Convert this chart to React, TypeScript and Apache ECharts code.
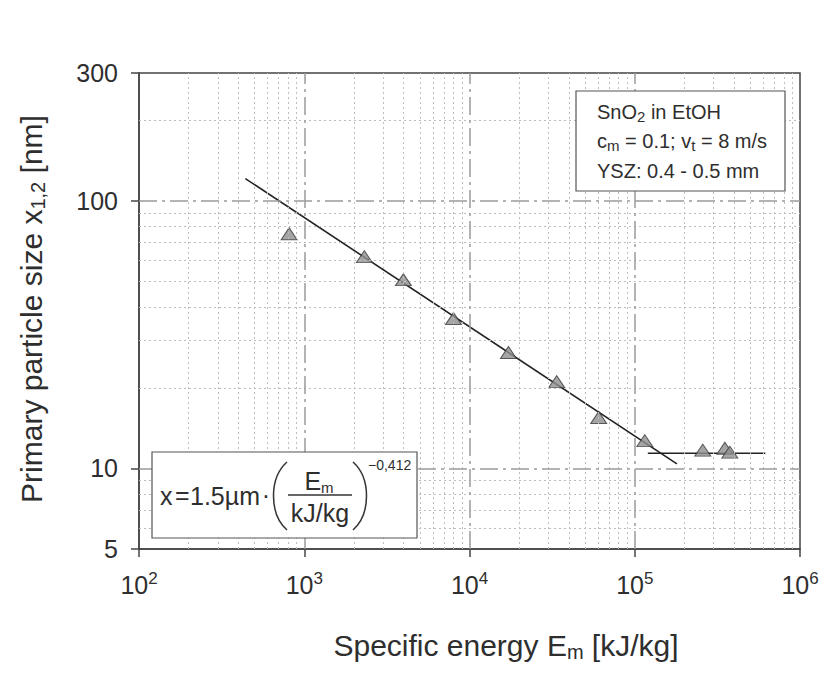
import React, { useEffect, useRef } from "react";
import * as echarts from "echarts";

// ---- data ----
const energy = [810, 2310, 3980, 8000, 17200, 33700, 60500, 115000, 258000, 351000, 376000];
const particleSize = [75.3, 61.8, 50.7, 36.3, 27.1, 21.1, 15.5, 12.7, 11.7, 11.9, 11.5];
const fitLineE = [440, 180000];
const fitLineX = [121, 10.4];
const plateauE = [120000, 617000];
const plateauX = [11.4, 11.4];

// ---- axes / grid ----
const xTicks = [100, 1000, 10000, 100000, 1000000];
const yTicks = [5, 10, 100, 300];
const xMajorGrid = [1000, 10000, 100000];
const yMajorGrid = [10, 100];
const xMinorGrid = [
  200, 300, 400, 500, 600, 700, 800, 900,
  2000, 3000, 4000, 5000, 6000, 7000, 8000, 9000,
  20000, 30000, 40000, 50000, 60000, 70000, 80000, 90000,
  200000, 300000, 400000, 500000, 600000, 700000, 800000, 900000,
];
const yMinorGrid = [6, 7, 8, 9, 20, 30, 40, 50, 60, 70, 80, 90, 200];

const legendLines = [
  "SnO{sub|2} in EtOH",
  "c{sub|m} = 0.1; v{sub|t} = 8 m/s",
  "YSZ: 0.4 - 0.5 mm",
];
const xTitle = "Specific energy E{sub|m} [kJ/kg]";
const yTitle = "Primary particle size x{sub|1,2} [nm]";

const FONT = "'Liberation Sans', Arial, Helvetica, sans-serif";
const TXT = "#2e2e2e";

export default function App() {
  const ref = useRef<HTMLDivElement>(null);

  useEffect(() => {
    document.body.style.margin = "0";
    if (!ref.current) return;
    const chart = echarts.init(ref.current, null, { renderer: "svg" });

    const minorStyle = { color: "#bdbdbd", width: 1, type: [2, 3] as any };
    const majorStyle = { color: "#9a9a9a", width: 1.5, type: [18, 5, 3, 5] as any };

    const gridLines = [
      ...xMinorGrid.map((v) => ({ xAxis: v, lineStyle: minorStyle })),
      ...yMinorGrid.map((v) => ({ yAxis: v, lineStyle: minorStyle })),
      ...xMajorGrid.map((v) => ({ xAxis: v, lineStyle: majorStyle })),
      ...yMajorGrid.map((v) => ({ yAxis: v, lineStyle: majorStyle })),
    ];

    const subRich = (fs: number, lh: number) => ({
      sub: { fontSize: fs, lineHeight: lh, verticalAlign: "bottom", fill: TXT, fontFamily: FONT },
    });

    const option: any = {
      animation: false,
      backgroundColor: "#fff",
      grid: {
        left: 139,
        right: 25,
        top: 73,
        bottom: 142,
        show: true,
        borderColor: "#444",
        borderWidth: 1.5,
        backgroundColor: "transparent",
      },
      xAxis: {
        type: "log",
        logBase: 10,
        min: 100,
        max: 1000000,
        axisLine: { show: true, lineStyle: { color: "#444", width: 1.5 } },
        axisTick: { show: true, length: 8, customValues: xTicks, lineStyle: { color: "#444", width: 1.5 } },
        splitLine: { show: false },
        axisLabel: {
          customValues: xTicks,
          margin: 21,
          color: TXT,
          fontFamily: FONT,
          fontSize: 25,
          lineHeight: 30,
          formatter: (v: number) => "10{sup|" + Math.round(Math.log10(v)) + "}",
          rich: {
            sup: { fontSize: 17, lineHeight: 18, verticalAlign: "top", color: TXT, fontFamily: FONT },
          },
        },
      },
      yAxis: {
        type: "log",
        logBase: 10,
        min: 5,
        max: 300,
        axisLine: { show: true, lineStyle: { color: "#444", width: 1.5 } },
        axisTick: { show: true, length: 8, customValues: yTicks, lineStyle: { color: "#444", width: 1.5 } },
        splitLine: { show: false },
        axisLabel: {
          customValues: yTicks,
          margin: 21,
          color: TXT,
          fontFamily: FONT,
          fontSize: 25,
          formatter: (v: number) => String(Math.round(v)),
        },
      },
      series: [
        {
          name: "grid",
          type: "line",
          data: [],
          z: 1,
          silent: true,
          markLine: {
            silent: true,
            symbol: ["none", "none"],
            label: { show: false },
            emphasis: { disabled: true },
            animation: false,
            data: gridLines,
          },
        },
        {
          name: "fit",
          type: "line",
          z: 3,
          symbol: "none",
          silent: true,
          lineStyle: { color: "#222", width: 1.6 },
          data: fitLineE.map((e, i) => [e, fitLineX[i]]),
        },
        {
          name: "plateau",
          type: "line",
          z: 3,
          symbol: "none",
          silent: true,
          lineStyle: { color: "#222", width: 1.6 },
          data: plateauE.map((e, i) => [e, plateauX[i]]),
        },
        {
          name: "data",
          type: "scatter",
          z: 4,
          symbol: "triangle",
          symbolSize: [16, 12],
          itemStyle: { color: "#8f8f8f", borderColor: "#3a3a3a", borderWidth: 1 },
          data: energy.map((e, i) => [e, particleSize[i]]),
        },
      ],
      graphic: [
        // axis titles
        {
          type: "text",
          x: 506,
          y: 645,
          z: 20,
          style: {
            text: xTitle,
            fill: TXT,
            fontFamily: FONT,
            fontSize: 30,
            lineHeight: 34,
            align: "center",
            verticalAlign: "middle",
            rich: subRich(20, 16),
          },
        },
        {
          type: "text",
          x: 31,
          y: 309,
          rotation: Math.PI / 2,
          z: 20,
          style: {
            text: yTitle,
            fill: TXT,
            fontFamily: FONT,
            fontSize: 30,
            lineHeight: 34,
            align: "center",
            verticalAlign: "middle",
            rich: subRich(20, 16),
          },
        },
        // legend box
        {
          type: "rect",
          z: 20,
          shape: { x: 576, y: 91, width: 209, height: 100 },
          style: { fill: "#fff", stroke: "#555", lineWidth: 1.2 },
        },
        ...legendLines.map((t, i) => ({
          type: "text",
          x: 597,
          y: [112, 141, 171][i],
          z: 21,
          style: {
            text: t,
            fill: TXT,
            fontFamily: FONT,
            fontSize: 20,
            lineHeight: 24,
            align: "left",
            verticalAlign: "middle",
            rich: subRich(15, 12),
          },
        })),
        // formula box
        {
          type: "rect",
          z: 20,
          shape: { x: 152, y: 452, width: 265, height: 86 },
          style: { fill: "#fff", stroke: "#555", lineWidth: 1.2 },
        },
        {
          type: "text", x: 160, y: 496, z: 21,
          style: { text: "x", fill: TXT, fontFamily: FONT, fontSize: 25, align: "left", verticalAlign: "middle" },
        },
        {
          type: "text", x: 175, y: 495, z: 21,
          style: { text: "=", fill: TXT, fontFamily: FONT, fontSize: 25, align: "left", verticalAlign: "middle" },
        },
        {
          type: "text", x: 190, y: 496, z: 21,
          style: { text: "1.5µm", fill: TXT, fontFamily: FONT, fontSize: 25, align: "left", verticalAlign: "middle" },
        },
        {
          type: "text", x: 266, y: 495, z: 21,
          style: { text: "·", fill: TXT, fontFamily: FONT, fontSize: 25, align: "center", verticalAlign: "middle" },
        },
        {
          type: "bezierCurve", z: 21,
          shape: { x1: 287, y1: 462, cpx1: 269, cpy1: 478, cpx2: 269, cpy2: 514, x2: 287, y2: 530 },
          style: { stroke: "#333", lineWidth: 1.5, fill: "none" },
        },
        {
          type: "bezierCurve", z: 21,
          shape: { x1: 353, y1: 462, cpx1: 371, cpy1: 478, cpx2: 371, cpy2: 514, x2: 353, y2: 530 },
          style: { stroke: "#333", lineWidth: 1.5, fill: "none" },
        },
        {
          type: "text", x: 319, y: 481, z: 21,
          style: {
            text: "E{sub|m}", fill: TXT, fontFamily: FONT, fontSize: 25, lineHeight: 28,
            align: "center", verticalAlign: "middle", rich: subRich(15, 12),
          },
        },
        {
          type: "line", z: 21,
          shape: { x1: 288, y1: 495, x2: 352, y2: 495 },
          style: { stroke: "#333", lineWidth: 1.5 },
        },
        {
          type: "text", x: 320, y: 513, z: 21,
          style: { text: "kJ/kg", fill: TXT, fontFamily: FONT, fontSize: 25, align: "center", verticalAlign: "middle" },
        },
        {
          type: "text", x: 368, y: 465, z: 21,
          style: { text: "−0,412", fill: TXT, fontFamily: FONT, fontSize: 14, align: "left", verticalAlign: "middle" },
        },
      ],
    };

    chart.setOption(option);
    return () => chart.dispose();
  }, []);

  return <div ref={ref} style={{ width: 825, height: 691 }} />;
}
